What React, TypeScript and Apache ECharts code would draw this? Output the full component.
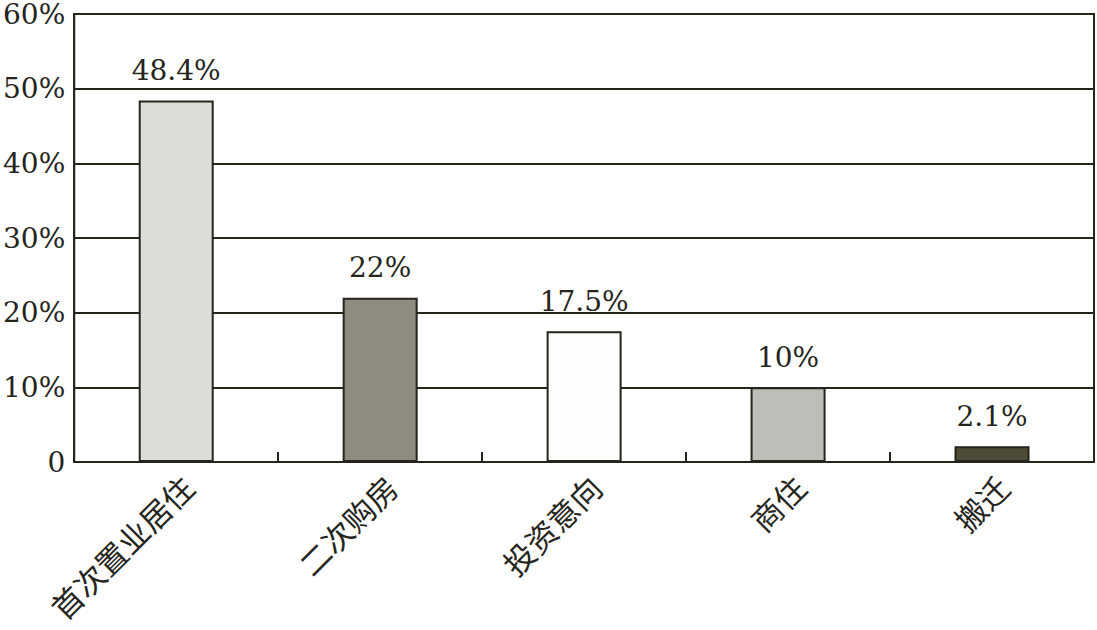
import React, { useEffect, useRef } from "react";
import * as echarts from "echarts";

const categories = ["首次置业居住", "二次购房", "投资意向", "商住", "搬迁"];
const values = [48.4, 22, 17.5, 10, 2.1];
const labels = ["48.4%", "22%", "17.5%", "10%", "2.1%"];
const barColors = ["#dcdcd8", "#8e8c7e", "#fdfdfb", "#bebdb7", "#4d4a38"];
const yTicks = [0, 10, 20, 30, 40, 50, 60];

const ink = "#25251c";
const serif = "'DejaVu Serif', 'Liberation Serif', serif";
const cjk = "'Noto Sans CJK SC', 'DejaVu Serif', serif";

export default function App() {
  const ref = useRef<HTMLDivElement>(null);
  useEffect(() => {
    document.body.style.margin = "0";
    const chart = echarts.init(ref.current!, null, { renderer: "svg" });
    chart.setOption({
      animation: false,
      backgroundColor: "#ffffff",
      grid: {
        left: 70,
        right: 3,
        top: 14,
        bottom: 168,
        show: true,
        borderColor: ink,
        borderWidth: 2,
        backgroundColor: "transparent",
      },
      xAxis: {
        type: "category",
        data: categories,
        axisLine: { show: true, lineStyle: { color: ink, width: 2 } },
        axisTick: { show: true, inside: true, length: 10, lineStyle: { color: ink, width: 2 } },
        axisLabel: {
          rotate: 45,
          margin: 8,
          fontFamily: cjk,
          fontSize: 31,
          color: ink,
          interval: 0,
          verticalAlign: "top",
        },
        splitLine: { show: false },
      },
      yAxis: {
        type: "value",
        min: 0,
        max: 60,
        interval: 10,
        axisLine: { show: true, lineStyle: { color: ink, width: 2 } },
        axisTick: { show: false },
        axisLabel: {
          margin: 9,
          fontFamily: serif,
          fontSize: 28,
          lineHeight: 24,
          color: ink,
          formatter: (v: number) => (v === 0 ? "0" : `${v}%`),
          customValues: yTicks,
        },
        splitLine: { show: true, lineStyle: { color: ink, width: 2 } },
      },
      series: [
        {
          type: "bar",
          barWidth: 75,
          data: values.map((v, i) => ({
            value: v,
            itemStyle: { color: barColors[i], borderColor: ink, borderWidth: 2 },
          })),
          label: {
            show: true,
            position: "top",
            distance: 16,
            fontFamily: serif,
            fontSize: 28,
            color: ink,
            formatter: (p: any) => labels[p.dataIndex],
          },
        },
      ],
    });
    return () => chart.dispose();
  }, []);
  return (
    <div
      ref={ref}
      style={{ position: "fixed", left: 0, top: 0, width: 1097, height: 630 }}
    />
  );
}
